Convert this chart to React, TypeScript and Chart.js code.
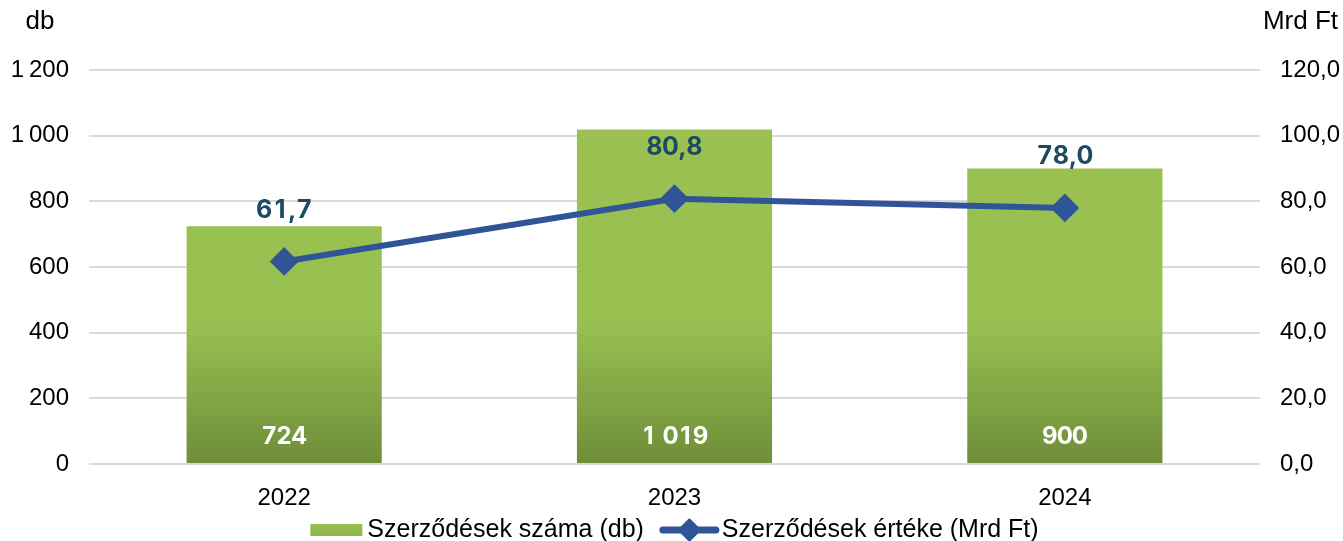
import React, { useEffect, useRef } from "react";
import { Chart, registerables } from "chart.js";
Chart.register(...registerables);

const categories = ["2022", "2023", "2024"];
const contractCounts = [724, 1019, 900];
const contractValues = [61.7, 80.8, 78.0];
const barSeriesLabel = "Szerződések száma (db)";
const lineSeriesLabel = "Szerződések értéke (Mrd Ft)";
const leftAxisTitle = "db";
const rightAxisTitle = "Mrd Ft";

const TICK_FONT = "'Liberation Sans', Arial, sans-serif";
const LABEL_FONT = "Inter, 'Liberation Sans', sans-serif";
const LINE_COLOR = "#2F5597";
const LINE_LABEL_COLOR = "#1d4a62";

const fmtThousands = (n: number, sep = " ") =>
  String(Math.round(n)).replace(/\B(?=(\d{3})+(?!\d))/g, sep);
const fmtDecimal = (n: number) => n.toFixed(1).replace(".", ",");

// draw text with fixed-width cells for digits (tabular figures)
function drawTabular(ctx: CanvasRenderingContext2D, text: string, cx: number, cy: number, digitW: number, otherW: number) {
  const chars = Array.from(text);
  const widths = chars.map((ch) => (/[0-9]/.test(ch) ? digitW : otherW));
  const total = widths.reduce((a, b) => a + b, 0);
  let x = cx - total / 2;
  ctx.textAlign = "center";
  chars.forEach((ch, i) => {
    ctx.fillText(ch, x + widths[i] / 2, cy);
    x += widths[i];
  });
}

const overlayPlugin = {
  id: "overlay",
  afterDatasetsDraw(chart: any) {
    const ctx = chart.ctx;
    ctx.save();
    ctx.textBaseline = "middle";
    // bar labels
    const barMeta = chart.getDatasetMeta(1);
    ctx.font = `bold 24px ${LABEL_FONT}`;
    ctx.fillStyle = "#ffffff";
    barMeta.data.forEach((el: any, i: number) => {
      drawTabular(ctx, fmtThousands(contractCounts[i]), el.x, el.base - 26, 15, 7);
    });
    // line labels
    const lineMeta = chart.getDatasetMeta(0);
    ctx.font = `bold 25px ${LABEL_FONT}`;
    ctx.fillStyle = LINE_LABEL_COLOR;
    lineMeta.data.forEach((el: any, i: number) => {
      drawTabular(ctx, fmtDecimal(contractValues[i]), el.x, el.y - 51, 16, 8);
    });
    ctx.restore();
  },
  afterDraw(chart: any) {
    const ctx = chart.ctx;
    const area = chart.chartArea;
    ctx.save();
    ctx.fillStyle = "#000000";
    ctx.textBaseline = "middle";
    ctx.font = `26px ${TICK_FONT}`;
    ctx.textAlign = "center";
    ctx.fillText(leftAxisTitle, 40, 22);
    ctx.textAlign = "right";
    ctx.fillText(rightAxisTitle, chart.width - 5, 22);

    // legend
    ctx.font = `25px ${TICK_FONT}`;
    const y = 530;
    const rectW = 52;
    const lineW = 59;
    const t1 = ctx.measureText(barSeriesLabel).width;
    const t2 = ctx.measureText(lineSeriesLabel).width;
    const total = rectW + 5 + t1 + 16 + lineW + 3 + t2;
    let x = (area.left + area.right) / 2 - total / 2;
    const grad = ctx.createLinearGradient(0, y - 6, 0, y + 6);
    grad.addColorStop(0, "#9AC152");
    grad.addColorStop(1, "#8DB24A");
    ctx.fillStyle = grad;
    ctx.fillRect(x, y - 6, rectW, 12);
    x += rectW + 5;
    ctx.fillStyle = "#000000";
    ctx.textAlign = "left";
    ctx.fillText(barSeriesLabel, x, y);
    x += t1 + 16;
    ctx.strokeStyle = LINE_COLOR;
    ctx.lineWidth = 7;
    ctx.lineCap = "round";
    ctx.beginPath();
    ctx.moveTo(x + 3, y);
    ctx.lineTo(x + lineW - 3, y);
    ctx.stroke();
    const cx = x + lineW / 2;
    ctx.fillStyle = LINE_COLOR;
    ctx.lineJoin = "round";
    ctx.lineWidth = 3;
    ctx.beginPath();
    ctx.moveTo(cx, y - 10);
    ctx.lineTo(cx + 10, y);
    ctx.lineTo(cx, y + 10);
    ctx.lineTo(cx - 10, y);
    ctx.closePath();
    ctx.fill();
    ctx.stroke();
    x += lineW + 3;
    ctx.fillStyle = "#000000";
    ctx.fillText(lineSeriesLabel, x, y);
    ctx.restore();
  },
};

export default function App() {
  const canvasRef = useRef<HTMLCanvasElement | null>(null);

  useEffect(() => {
    if (!canvasRef.current) return;
    const chart = new Chart(canvasRef.current, {
      type: "bar",
      data: {
        labels: categories,
        datasets: [
          {
            type: "line",
            label: lineSeriesLabel,
            data: contractValues,
            yAxisID: "y1",
            borderColor: LINE_COLOR,
            borderWidth: 6,
            pointStyle: "rectRot",
            pointRadius: 13,
            pointBackgroundColor: LINE_COLOR,
            pointBorderColor: LINE_COLOR,
            pointBorderWidth: 2,
            tension: 0,
            order: 0,
          } as any,
          {
            type: "bar",
            label: barSeriesLabel,
            data: contractCounts,
            yAxisID: "y",
            barPercentage: 0.5,
            categoryPercentage: 1,
            order: 1,
            backgroundColor: (c: any) => {
              const area = c.chart.chartArea;
              if (!area) return "#9AC152";
              const g = c.chart.ctx.createLinearGradient(0, area.bottom, 0, area.top);
              g.addColorStop(0, "#6E8E39");
              g.addColorStop(0.36, "#98C051");
              g.addColorStop(1, "#9AC152");
              return g;
            },
          } as any,
        ],
      },
      options: {
        animation: false,
        responsive: false,
        layout: { padding: { top: 70, left: 0, right: 0, bottom: 0 } },
        plugins: {
          legend: { display: false },
          tooltip: { enabled: false },
        },
        scales: {
          x: {
            grid: { display: false },
            border: { display: false },
            ticks: { color: "#000", font: { family: TICK_FONT, size: 24 }, padding: 12 },
            afterFit: (s: any) => {
              s.height = 77;
            },
          },
          y: {
            position: "left",
            min: 0,
            max: 1200,
            ticks: {
              stepSize: 200,
              color: "#000",
              font: { family: TICK_FONT, size: 24 },
              padding: 20,
              callback: (v: any) => fmtThousands(Number(v), "\u2009"),
            },
            grid: { color: "#d9d9d9", lineWidth: 2, drawTicks: false },
            border: { display: false },
            afterFit: (s: any) => {
              s.width = 89;
            },
          },
          y1: {
            position: "right",
            min: 0,
            max: 120,
            ticks: {
              stepSize: 20,
              color: "#000",
              font: { family: TICK_FONT, size: 24 },
              padding: 20,
              callback: (v: any) => fmtDecimal(Number(v)),
            },
            grid: { display: false, drawTicks: false },
            border: { display: false },
            afterFit: (s: any) => {
              s.width = 83;
            },
          },
        },
      },
      plugins: [overlayPlugin],
    });
    return () => chart.destroy();
  }, []);

  return (
    <div style={{ position: "fixed", left: 0, top: 0, width: 1343, height: 541, background: "#fff" }}>
      <canvas ref={canvasRef} width={1343} height={541} />
    </div>
  );
}
